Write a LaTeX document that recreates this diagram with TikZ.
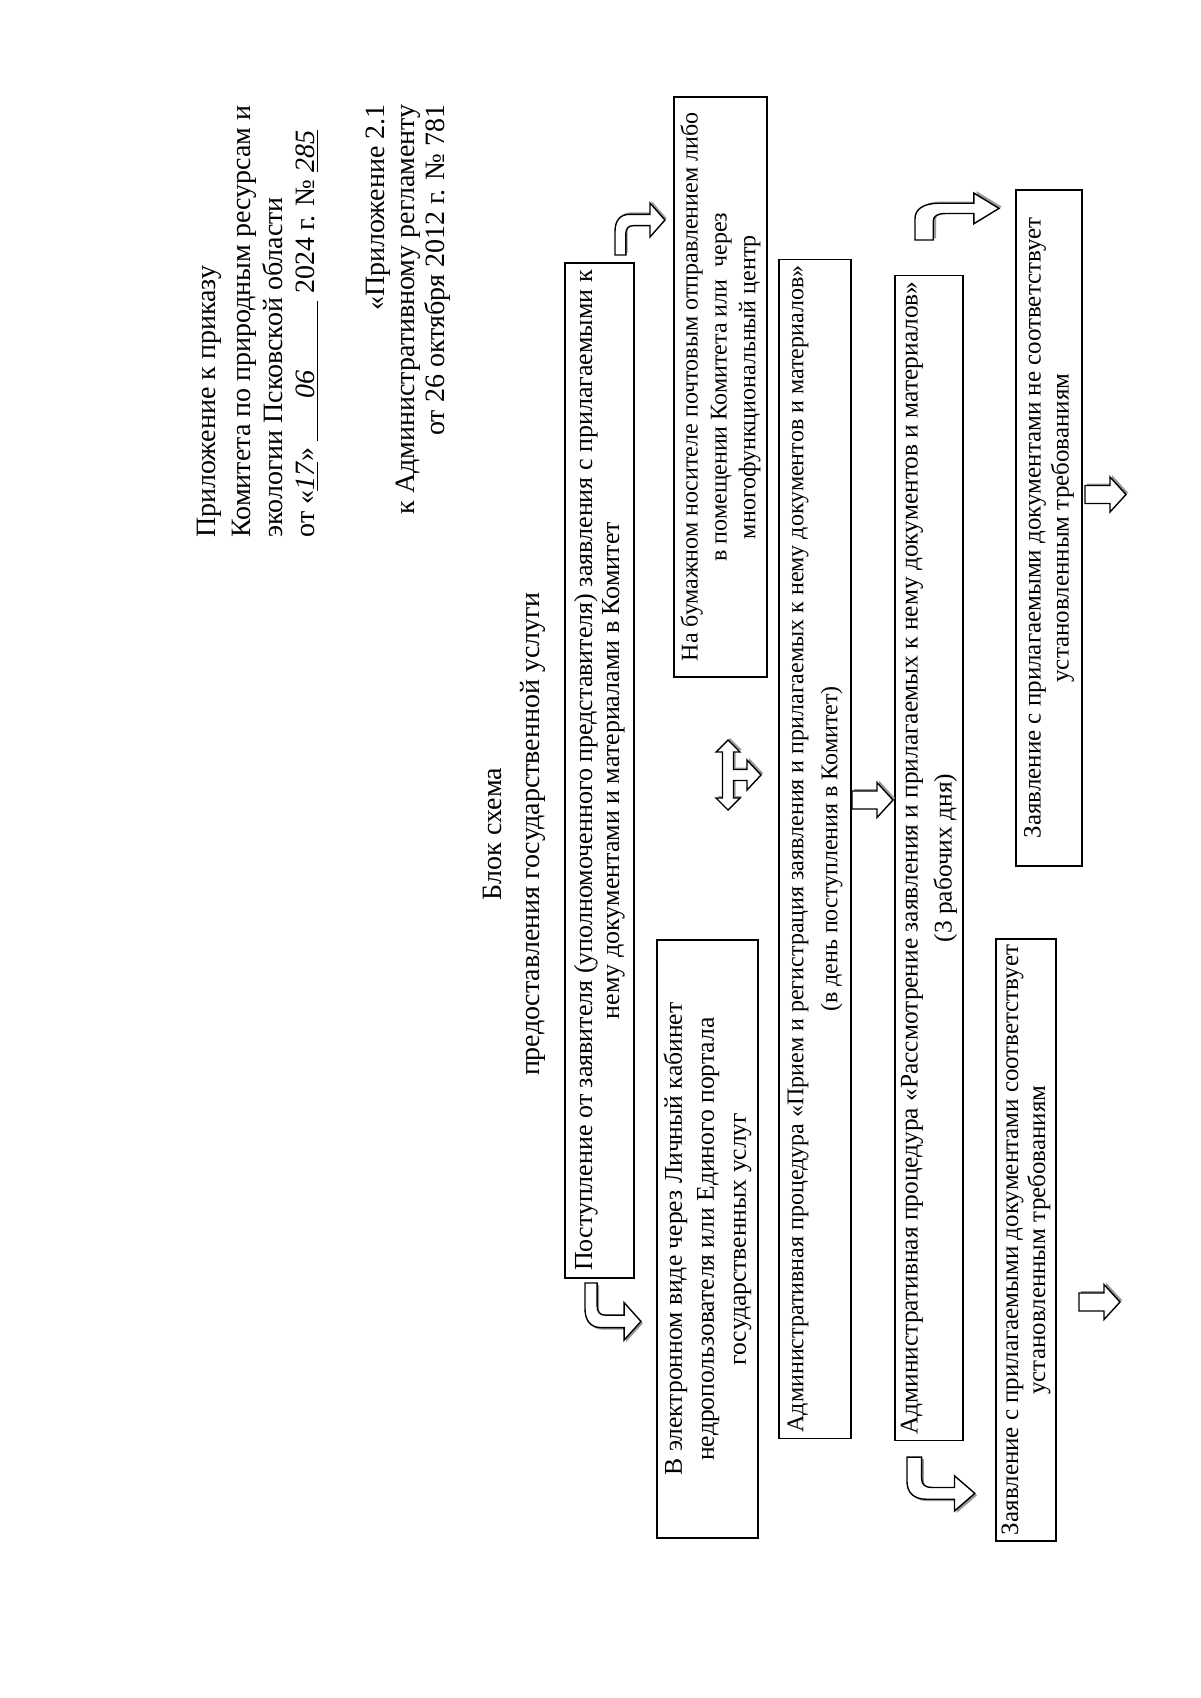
\documentclass[tikz,border=0pt]{standalone}
\usepackage{fontspec}
\setmainfont{Liberation Serif}
\usetikzlibrary{calc}
% bent arrow in a 60 x 55 frame: stem at lower left, head at top pointing right
\newcommand{\bentpath}{(0,55) -- (0,30) .. controls (0,19) and (6,12) .. (17,12) -- (42,12) -- (42,0) -- (60,18) -- (42,36) -- (42,24) -- (22,24) .. controls (16,24) and (13,27) .. (13,33) -- (13,55) -- cycle}
\newcommand{\blockpath}{(0,-9) -- (25,-9) -- (25,-17.5) -- (41,0) -- (25,17.5) -- (25,9) -- (0,9) -- cycle}
\newcommand{\triplepath}{(0,-35) -- (12,-23) -- (5.5,-23) -- (5.5,-5.5) -- (19,-5.5) -- (19,-15) -- (33,0) -- (19,15) -- (19,5.5) -- (5.5,5.5) -- (5.5,23) -- (12,23) -- (0,35) -- (-12,23) -- (-5.5,23) -- (-5.5,-23) -- (-12,-23) -- cycle}
\tikzset{
  hdr/.style={rotate=90, inner sep=0pt, font=\fontsize{14}{16}\selectfont},
  procbox/.style={draw=black, line width=0.6pt, rotate=90, inner xsep=3pt, inner ysep=2pt, align=center},
  ashape/.style={draw=black, line width=0.7pt, fill=white},
  ashadow/.style={fill=black!40}
}
% #1,#2: origin (top-left, or bottom-left when flipped); #3 xscale; #4 yscale (negative = flipped)
\newcommand{\bentarrow}[4]{%
  \begin{scope}[shift={(#1,#2)}, xscale=#3, yscale=#4]
    \fill[ashadow, shift={(2,-2)}] \bentpath;
    \draw[ashape] \bentpath;
  \end{scope}}
\newcommand{\blockarrow}[2]{%
  \begin{scope}[shift={(#1,#2)}]
    \fill[ashadow, shift={(2,-2)}] \blockpath;
    \draw[ashape] \blockpath;
  \end{scope}}
\begin{document}
\begin{tikzpicture}[x=0.5pt,y=-0.5pt]
\fill[white] (0,0) rectangle (1200,1698);
\useasboundingbox (0,0) rectangle (1200,1698);

% header
\node[hdr, anchor=base west] (h1) at (215.5,538) {Приложение к приказу};
\node[hdr, anchor=base west] (h2) at (250.5,538) {Комитета по природным ресурсам и};
\node[hdr, anchor=base west] (h3) at (282.5,538) {экологии Псковской области};
\node[hdr, anchor=base west] (h4) at (314.5,538) {от «\underline{\textit{17}}» \underline{\hspace{1.5em}\textit{06}\hspace{2.5em}} 2024 г. № \underline{\textit{285}}};
\node[hdr, anchor=base east] (g1) at (384.5,104) {«Приложение 2.1};
\node[hdr, anchor=base east] (g2) at (414.5,104) {к Административному регламенту};
\node[hdr, anchor=base east] (g3) at (444.5,104) {от 26 октября 2012 г. № 781};

% title
\node[hdr, anchor=base] (t1) at (501,834) {Блок схема};
\node[hdr, anchor=base] (t2) at (539,834) {предоставления государственной услуги};

% boxes
\node[procbox, minimum width=507.5pt, minimum height=34.5pt, font=\fontsize{13}{13.5}\selectfont] (b1) at (599.5,770.5)
 {Поступление от заявителя (уполномоченного представителя) заявления с прилагаемыми к\\ нему документами и материалами в Комитет};
\node[procbox, minimum width=290pt, minimum height=46.5pt, font=\fontsize{12}{14.4}\selectfont] (bp) at (720.5,387)
 {На бумажном носителе почтовым отправлением либо\\ в помещении Комитета или \ через\\ многофункциональный центр};
\node[procbox, minimum width=299pt, minimum height=50.5pt, font=\fontsize{12.8}{16}\selectfont] (be) at (707.5,1239)
 {В электронном виде через Личный кабинет\\ недропользователя или Единого портала\\ государственных услуг};
\node[procbox, minimum width=586pt, minimum height=36pt, font=\fontsize{12}{17}\selectfont] (b3) at (815,849)
 {Административная процедура «Прием и регистрация заявления и прилагаемых к нему документов и материалов»\\ (в день поступления в Комитет)};
\node[procbox, minimum width=582pt, minimum height=34pt, font=\fontsize{12.7}{17}\selectfont] (b4) at (929,858)
 {Административная процедура «Рассмотрение заявления и прилагаемых к нему документов и материалов»\\ (3 рабочих дня)};
\node[procbox, minimum width=287pt, minimum height=30pt, font=\fontsize{12.5}{13.5}\selectfont] (b5) at (1026,1240)
 {Заявление с прилагаемыми документами соответствует\\ установленным требованиям};
\node[procbox, minimum width=338pt, minimum height=33pt, font=\fontsize{12.5}{14}\selectfont] (b6) at (1049,528)
 {Заявление с прилагаемыми документами не соответствует\\ установленным требованиям};

% bent arrows
\bentarrow{615}{203}{0.833}{0.945}
\bentarrow{585}{1340}{0.933}{-1.036}
\bentarrow{915}{193}{1.4}{0.855}
\bentarrow{907}{1511}{1.13}{-0.98}

% left/right/down arrow between the two channels
\begin{scope}[shift={(728,775)}]
  \fill[ashadow, shift={(2,-2)}] \triplepath;
  \draw[ashape] \triplepath;
\end{scope}

% straight block arrows
\blockarrow{852}{800}
\blockarrow{1079}{1302}
\blockarrow{1085}{494.5}
\end{tikzpicture}
\end{document}
